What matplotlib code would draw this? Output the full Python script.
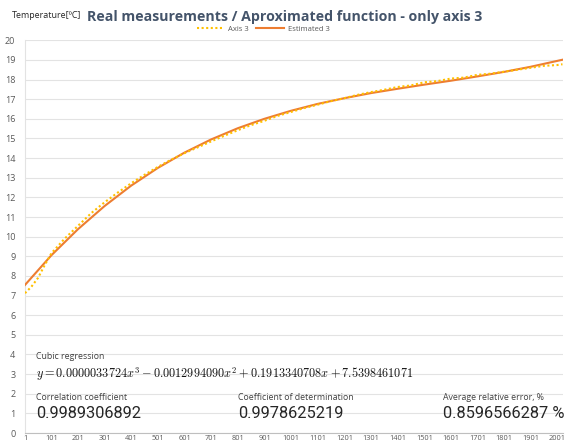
import matplotlib
matplotlib.use("Agg")
import matplotlib.pyplot as plt
from matplotlib.ticker import FixedLocator

# ---- data ----
est_x = [1, 100, 200, 300, 400, 500, 600, 700, 800, 900, 1000,
         1100, 1200, 1300, 1400, 1500, 1600, 1700, 1800, 1900, 2000, 2020]
est_y = [7.54, 9.05, 10.38, 11.56, 12.60, 13.50, 14.28, 14.95, 15.52, 16.00, 16.41,
         16.76, 17.05, 17.31, 17.53, 17.74, 17.94, 18.16, 18.39, 18.65, 18.95, 19.01]

meas_x = [1, 25, 50, 75, 100, 150, 200, 250, 300, 350, 400, 450, 500, 550, 600,
          650, 700, 750, 800, 850, 900, 950, 1000, 1050, 1100, 1150, 1200, 1250,
          1300, 1350, 1400, 1450, 1500, 1550, 1600, 1650, 1700, 1750, 1800,
          1850, 1900, 1950, 2000, 2020]
meas_y = [7.12, 7.45, 7.90, 8.55, 9.15, 9.90, 10.55, 11.20, 11.75, 12.25, 12.72,
          13.15, 13.55, 13.92, 14.25, 14.55, 14.85, 15.14, 15.42, 15.68, 15.90,
          16.15, 16.35, 16.55, 16.72, 16.90, 17.05, 17.22, 17.36, 17.48, 17.62,
          17.70, 17.86, 17.92, 18.05, 18.10, 18.24, 18.30, 18.40, 18.50, 18.60,
          18.70, 18.74, 18.78]

xtick_vals = list(range(1, 2002, 100))
ytick_vals = list(range(0, 21))

equation = r"$y = 0.0000033724x^3 - 0.0012994090x^2 + 0.1913340708x + 7.5398461071$"
stats = [("Correlation coefficient", "0.9989306892"),
         ("Coefficient of determination", "0.9978625219"),
         ("Average relative error, %", "0.8596566287 %")]

plt.rcParams['font.family'] = ['Open Sans', 'DejaVu Sans']
plt.rcParams['mathtext.fontset'] = 'cm'

W, H = 573, 444
fig = plt.figure(figsize=(W / 100, H / 100), dpi=100)
ax = fig.add_axes([25 / W, (H - 433) / H, 538 / W, 392.7 / H])

ax.plot(est_x, est_y, color="#ED7D31", lw=1.5, label="Estimated 3", zorder=3)
ax.plot(meas_x, meas_y, color="#FFC000", lw=1.5, ls=(0, (1, 1.2)), label="Axis 3", zorder=4)

ax.set_xlim(1, 2022)
ax.set_ylim(0, 20)
ax.yaxis.set_major_locator(FixedLocator(ytick_vals))
ax.set_yticklabels([str(v) for v in ytick_vals])
ax.xaxis.set_major_locator(FixedLocator(xtick_vals))
ax.set_xticklabels([str(v) for v in xtick_vals])
ax.tick_params(axis='y', length=0, pad=7, labelsize=6.5, labelcolor="#595959")
ax.tick_params(axis='x', length=0, pad=1.5, labelsize=5.3, labelcolor="#595959")
ax.grid(axis='y', color="#e3e3e3", lw=0.8)
ax.set_axisbelow(True)
for s in ['top', 'right']:
    ax.spines[s].set_visible(False)
ax.spines['left'].set_color("#e3e3e3")
ax.spines['bottom'].set_color("#bfbfbf")
ax.spines['bottom'].set_linestyle((0, (1, 1)))

# legend
h, l = ax.get_legend_handles_labels()
fig.legend([h[1], h[0]], [l[1], l[0]], loc='center', bbox_to_anchor=(263 / W, 1 - 29 / H),
           ncol=2, frameon=False, fontsize=5.5, handlelength=3.6, columnspacing=1.0,
           handletextpad=0.5, labelcolor="#595959")

# titles
fig.text(285 / W, 1 - 17 / H, "Real measurements / Aproximated function - only axis 3",
         ha='center', va='center', fontsize=10.2, fontweight='bold', color="#44546A")
fig.text(12 / W, 1 - 15 / H, "Temperature[ºC]", ha='left', va='center', fontsize=6.4, color="#262626")

# annotations
fig.text(36 / W, 1 - 356 / H, "Cubic regression", ha='left', va='center', fontsize=6.3, color="#404040")
fig.text(36 / W, 1 - 374 / H, equation, ha='left', va='center', fontsize=8.8, color="#111111")
xs = [36, 238, 443]
for x0, (lab, val) in zip(xs, stats):
    fig.text(x0 / W, 1 - 397 / H, lab, ha='left', va='center', fontsize=6.3, color="#404040")
    fig.text(x0 / W, 1 - 413 / H, val, ha='left', va='center', fontsize=11.8, color="#262626",
             family=['Roboto', 'DejaVu Sans'])

fig.savefig("out.png", dpi=100)
